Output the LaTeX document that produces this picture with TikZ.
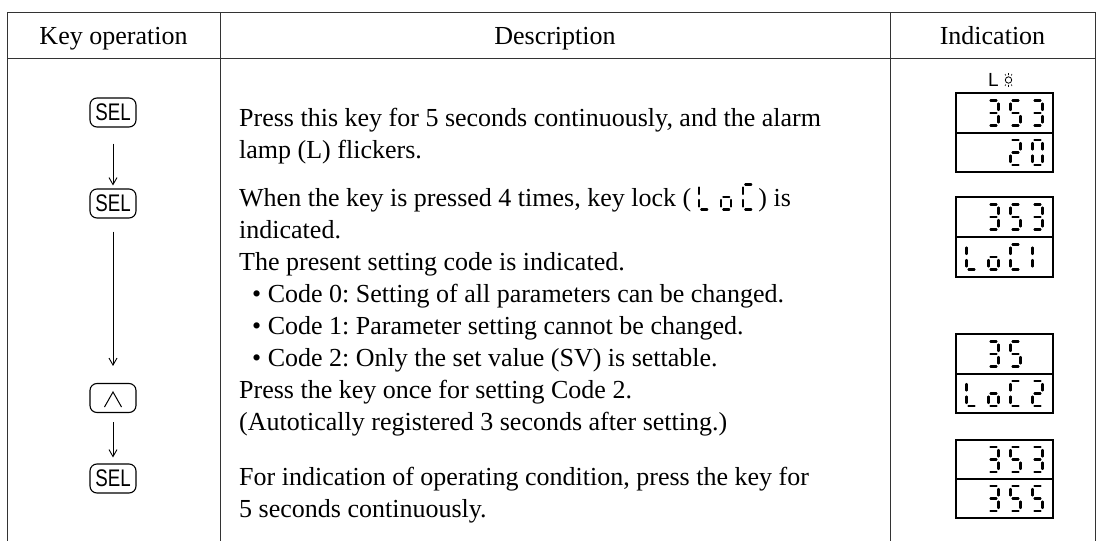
\documentclass[tikz,border=0pt]{standalone}
\usepackage{fontspec}
\setmainfont{Liberation Serif}
\setsansfont{Liberation Sans}
\usetikzlibrary{arrows.meta}
\frenchspacing
\tikzset{
  seg/.style={line width=2.2pt, line cap=round},
  tline/.style={line width=1pt, black!80},
  keybox/.style={draw, line width=1.1pt, rounded corners=7pt, minimum width=46pt, minimum height=29pt, inner sep=0pt, font=\fontsize{24}{24}\sffamily},
  arr/.style={line width=0.9pt, -{Straight Barb[length=7pt,width=8pt]}},
  txt/.style={anchor=base west, inner sep=0pt, font=\fontsize{26}{32}\selectfont},
  head/.style={anchor=base, inner sep=0pt, font=\fontsize{26}{32}\selectfont},
  disp/.style={line width=1.3pt},
}
\newcommand\sgA{\draw[seg] (2.5,0.5)--(8.5,0.5);}
\newcommand\sgG{\draw[seg] (2.5,13)--(8.5,13);}
\newcommand\sgD{\draw[seg] (2.5,25.5)--(8.5,25.5);}
\newcommand\sgF{\draw[seg] (0.5,3.5)--(0.5,10);}
\newcommand\sgE{\draw[seg] (0.5,16)--(0.5,22.5);}
\newcommand\sgB{\draw[seg] (10.5,3.5)--(10.5,10);}
\newcommand\sgC{\draw[seg] (10.5,16)--(10.5,22.5);}
\newcommand\dThree{\sgA\sgB\sgC\sgD\sgG}
\newcommand\dFive{\sgA\sgF\sgG\sgC\sgD}
\newcommand\dTwo{\sgA\sgB\sgG\sgE\sgD}
\newcommand\dZero{\sgA\sgB\sgC\sgD\sgE\sgF}
\newcommand\dEl{\sgF\sgE\sgD}
\newcommand\dOh{\sgG\sgC\sgD\sgE}
\newcommand\dCee{\sgA\sgF\sgE\sgD}
\newcommand\dOne{\sgF\sgE}
\newcommand\dg[3]{\begin{scope}[shift={(#1,#2)}]#3\end{scope}}
\newcommand\lockglyph{\tikz[x=1pt,y=-1pt,baseline={(0,22)}]{\dg{0}{0}{\dEl}\dg{22}{0}{\dOh}\dg{44}{0}{\dCee}}}
\begin{document}
\begin{tikzpicture}[x=1pt,y=-1pt]
\useasboundingbox (0,0) rectangle (1101,541);
% table
\draw[tline] (7,541) -- (7,12) -- (1095,12) -- (1095,541);
\draw[tline] (7,58) -- (1095,58);
\draw[tline] (220,12) -- (220,541);
\draw[tline] (890,12) -- (890,541);
% headers
\node[head] (h1) at (113.5,44) {Key operation};
\node[head] (h2) at (555,44) {Description};
\node[head] (h3) at (992.5,44) {Indication};
% keys
\node[keybox] (s1) at (113,112.5) {\scalebox{0.78}[1]{SEL}};
\node[keybox] (s2) at (113,203.5) {\scalebox{0.78}[1]{SEL}};
\node[keybox] (up) at (113,398) {};
\node[keybox] (s3) at (113,478.5) {\scalebox{0.78}[1]{SEL}};
\draw[line width=1pt] ([shift={(-8.5,9)}]up.center) -- ([shift={(0,-6)}]up.center) -- ([shift={(8.5,9)}]up.center);
\draw[arr, shorten <=16pt, shorten >=3pt] (s1.south) -- (s2.north);
\draw[arr, shorten <=13pt, shorten >=17pt] (s2.south) -- (up.north);
\draw[arr, shorten <=9pt, shorten >=6pt] (up.south) -- (s3.north);
% description
\node[txt] (t1) at (239,126) {Press this key for 5 seconds continuously, and the alarm};
\node[txt] (t2) at (239,158) {lamp (L) flickers.};
\node[txt] (t3) at (239,206) {When the key is pressed 4 times, key lock (\hspace{7pt}\lockglyph\hspace{6pt}) is};
\node[txt] (t4) at (239,238) {indicated.};
\node[txt] (t5) at (239,270) {The present setting code is indicated.};
\node[txt] (t6) at (252,302) {• Code 0: Setting of all parameters can be changed.};
\node[txt] (t7) at (252,334) {• Code 1: Parameter setting cannot be changed.};
\node[txt] (t8) at (252,366) {• Code 2: Only the set value (SV) is settable.};
\node[txt] (t9) at (239,398) {Press the key once for setting Code 2.};
\node[txt] (t10) at (239,430) {(Autotically registered 3 seconds after setting.)};
\node[txt] (t11) at (239,485) {For indication of operating condition, press the key for};
\node[txt] (t12) at (239,517) {5 seconds continuously.};
% lamp
\node[anchor=base, inner sep=0pt, font=\fontsize{19}{19}\sffamily] (lamp) at (993.5,86) {L};
\draw[line width=0.8pt] (1008.5,80) circle[radius=3.2];
\draw[line width=0.6pt] (1008.5,73.2)--(1008.5,75.2) (1005,74)--(1005.8,75.6) (1012,74)--(1011.2,75.6)
  (1008.5,84.8)--(1008.5,86.8) (1005,86)--(1005.8,84.4) (1012,86)--(1011.2,84.4);
% displays
\draw[disp] (956,93) rectangle (1053,172); \draw[disp] (956,133) -- (1053,133);
\dg{988}{100}{\dThree}\dg{1010}{100}{\dFive}\dg{1032}{100}{\dThree}
\dg{1010}{139.5}{\dTwo}\dg{1032}{139.5}{\dZero}
\draw[disp] (956,197) rectangle (1053,277); \draw[disp] (956,237) -- (1053,237);
\dg{988}{204}{\dThree}\dg{1010}{204}{\dFive}\dg{1032}{204}{\dThree}
\dg{966}{244}{\dEl}\dg{988}{244}{\dOh}\dg{1010}{244}{\dCee}\dg{1032}{244}{\dOne}
\draw[disp] (956,334) rectangle (1053,413); \draw[disp] (956,374) -- (1053,374);
\dg{988}{341}{\dThree}\dg{1010}{341}{\dFive}
\dg{966}{380.5}{\dEl}\dg{988}{380.5}{\dOh}\dg{1010}{380.5}{\dCee}\dg{1032}{380.5}{\dTwo}
\draw[disp] (956,440) rectangle (1053,518); \draw[disp] (956,479) -- (1053,479);
\dg{988}{446.5}{\dThree}\dg{1010}{446.5}{\dFive}\dg{1032}{446.5}{\dThree}
\dg{988}{485.5}{\dThree}\dg{1010}{485.5}{\dFive}\dg{1032}{485.5}{\dFive}
\end{tikzpicture}
\end{document}
